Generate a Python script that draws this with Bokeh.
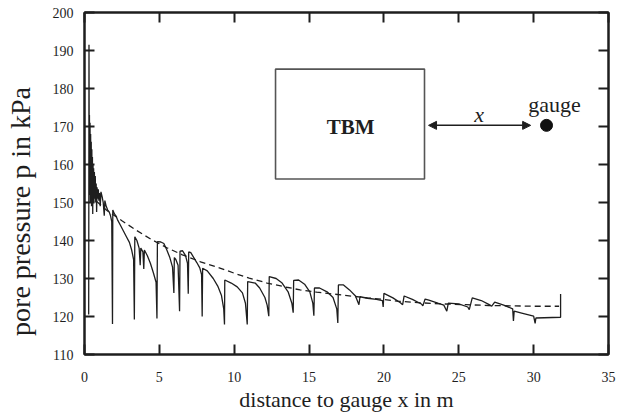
from bokeh.plotting import figure
from bokeh.models import LinearAxis, Arrow, NormalHead
from bokeh.core.properties import value
from bokeh.embed import file_html
from bokeh.resources import INLINE

# ---------------- data ----------------
meas_x = [0.28, 0.30, 0.32, 0.33, 0.35, 0.37, 0.39, 0.41, 0.43, 0.45, 0.47, 0.49, 0.51, 0.53,
          0.55, 0.57, 0.59, 0.61, 0.63, 0.66, 0.69, 0.72, 0.75, 0.78, 0.81, 0.84, 0.88, 0.92,
          0.96, 1.00, 1.05, 1.10, 1.18, 1.25, 1.32, 1.36, 1.45, 1.55, 1.65, 1.74, 1.82, 1.87,
          1.89, 2.00, 2.10, 2.20, 2.40, 2.60, 2.80, 3.00, 3.15, 3.28, 3.33, 3.36, 3.50, 3.65,
          3.72, 3.76, 3.90, 3.96, 4.00, 4.20, 4.40, 4.60, 4.78, 4.84, 4.87, 5.10, 5.30, 5.50,
          5.70, 5.88, 5.97, 6.00, 6.10, 6.25, 6.35, 6.38, 6.55, 6.75, 6.88, 6.93, 6.96, 7.10,
          7.30, 7.50, 7.70, 7.82, 7.86, 7.89, 8.20, 8.60, 8.90, 9.15, 9.30, 9.35, 9.37, 9.80,
          10.20, 10.55, 10.75, 10.87, 10.90, 11.40, 11.70, 12.05, 12.20, 12.31, 12.34, 12.80,
          13.20, 13.60, 13.85, 13.94, 13.97, 14.30, 14.70, 15.05, 15.25, 15.32, 15.36, 15.70,
          16.20, 16.60, 16.85, 16.92, 16.96, 17.30, 17.70, 18.10, 18.33, 18.40, 18.90, 19.50,
          19.90, 19.95, 20.00, 20.60, 21.10, 21.25, 21.35, 21.90, 22.50, 22.60, 22.75, 23.00,
          23.60, 24.00, 24.20, 24.30, 25.00, 25.60, 25.70, 25.90, 26.50, 27.00, 27.20, 27.40,
          28.00, 28.60, 28.65, 28.70, 29.20, 30.00, 30.10, 30.15, 31.80, 31.80]
meas_p = [120.5, 191.5, 152.0, 173.0, 155.0, 171.0, 150.0, 168.0, 153.0, 166.0, 149.0, 164.0, 152.0, 162.0,
          147.0, 160.0, 151.0, 159.0, 150.0, 158.0, 151.0, 157.0, 150.0, 155.0, 147.5, 154.0, 151.0, 153.5,
          150.5, 152.5, 149.0, 152.8, 151.5, 150.0, 146.5, 150.5, 149.0, 148.0, 147.5, 146.5, 145.0, 118.0,
          148.0, 147.0, 146.5, 145.5, 144.0, 142.5, 141.0, 139.5, 137.5, 135.0, 119.2, 141.0, 140.0, 138.0,
          133.5, 138.0, 137.0, 132.5, 137.5, 136.0, 134.0, 131.5, 129.0, 119.5, 139.7, 139.6, 139.2, 137.5,
          135.5, 133.0, 126.2, 135.5, 135.0, 133.5, 121.4, 137.2, 137.3, 136.0, 134.0, 126.0, 137.0, 136.8,
          135.5, 134.2, 132.8, 131.0, 120.0, 132.7, 132.0, 130.0, 128.0, 125.5, 122.0, 117.9, 129.6, 128.8,
          127.8, 126.2, 123.5, 117.9, 129.2, 128.8, 127.5, 125.0, 123.0, 120.1, 130.5, 130.0,
          128.8, 126.5, 123.5, 121.0, 129.5, 129.6, 128.5, 126.5, 123.5, 120.2, 127.5, 127.5,
          126.5, 125.0, 122.0, 118.3, 128.3, 128.3, 127.0, 125.4, 123.1, 125.2, 124.8, 124.5,
          124.2, 122.5, 126.1, 124.9, 123.6, 123.1, 125.4, 124.5, 123.3, 122.8, 124.6, 124.3,
          123.5, 123.0, 121.4, 123.5, 123.3, 122.5, 121.8, 124.9, 124.2, 123.2, 122.7, 123.8,
          123.0, 122.0, 118.8, 121.4, 120.9, 120.1, 118.2, 119.6, 119.8, 125.9]

fit_x = [0.8, 1.5, 2.5, 3.5, 4.5, 5.5, 6.5, 7.75, 9.0, 10.0, 11.0, 12.2, 13.5, 14.4, 15.5,
         16.65, 18.0, 18.9, 20.0, 21.0, 22.5, 24.0, 25.5, 27.0, 28.5, 30.0, 31.7]
fit_p = [150.3, 147.9, 145.2, 142.6, 140.2, 138.1, 136.3, 134.4, 132.8, 131.4, 130.1, 128.8,
         127.7, 127.0, 126.4, 125.9, 125.3, 124.9, 124.5, 124.0, 123.6, 123.3, 123.1, 122.9,
         122.8, 122.7, 122.7]

x_ticks = [0, 5, 10, 15, 20, 25, 30, 35]
y_ticks = [110, 120, 130, 140, 150, 160, 170, 180, 190, 200]

# sketch inset (TBM box, distance arrow, gauge)
tbm_left, tbm_right, tbm_bottom, tbm_top = [12.76], [22.71], [156.2], [185.1]
arrow_from, arrow_to, arrow_level = 22.98, 29.8, 170.3
gauge_x, gauge_y = [30.86], [170.3]
inset_text = ["TBM", "gauge", "x"]
inset_text_x = [17.77, 31.4, 26.36]
inset_text_y = [170.0, 175.8, 173.1]

SERIF = "Liberation Serif"
INK = "#1e1e1e"

# ---------------- figure ----------------
p = figure(width=620, height=414, x_range=(0, 35), y_range=(110, 200),
           output_backend="svg", toolbar_location=None,
           min_border_left=84, min_border_right=12, min_border_top=12, min_border_bottom=57)
p.grid.visible = False
p.outline_line_color = INK
p.outline_line_width = 2
p.background_fill_color = "white"
p.border_fill_color = "white"

for ax in (p.xaxis[0], p.yaxis[0]):
    ax.major_tick_in = 10
    ax.major_tick_out = 0
    ax.minor_tick_line_color = None
    ax.axis_line_width = 2
    ax.axis_line_color = INK
    ax.major_tick_line_color = INK
    ax.major_tick_line_width = 2
    ax.major_label_text_font = SERIF
    ax.major_label_text_font_size = "14px"
    ax.major_label_text_color = INK
    ax.axis_label_text_font = SERIF
    ax.axis_label_text_font_style = "normal"
    ax.axis_label_text_color = INK
p.xaxis.ticker = x_ticks
p.yaxis.ticker = y_ticks
p.xaxis.major_label_standoff = 17
p.yaxis.major_label_standoff = 11
p.xaxis.axis_label = "distance to gauge x in m"
p.xaxis.axis_label_text_font_size = "22px"
p.xaxis.axis_label_standoff = 2
# trailing no-break spaces push the (frame-centred) title down to where the reference has it
p.yaxis.axis_label = "pore pressure p in kPa" + "\u00a0" * 8
p.yaxis.axis_label_text_font_size = "28px"
p.yaxis.axis_label_standoff = 14

for loc, ticks in (("above", x_ticks), ("right", y_ticks)):
    ax = LinearAxis(ticker=ticks, major_tick_in=10, major_tick_out=0,
                    minor_tick_line_color=None, axis_line_width=2, axis_line_color=INK,
                    major_tick_line_color=INK, major_tick_line_width=2,
                    major_label_text_font_size="0px", major_label_standoff=0)
    p.add_layout(ax, loc)

# measured curve and fit
p.line(fit_x, fit_p, line_color=INK, line_width=1.3, line_dash="6 4")
p.line(meas_x, meas_p, line_color=INK, line_width=1.3)

# inset sketch
p.quad(left=tbm_left, right=tbm_right, bottom=tbm_bottom, top=tbm_top,
       fill_color=None, line_color="#555555", line_width=1.6)
p.add_layout(Arrow(x_start=arrow_from, y_start=arrow_level, x_end=arrow_to, y_end=arrow_level,
                   line_color=INK, line_width=1.5,
                   start=NormalHead(size=8, fill_color=INK, line_color=INK),
                   end=NormalHead(size=8, fill_color=INK, line_color=INK)))
p.scatter(gauge_x, gauge_y, size=12, color="#111111")

p.text(x=inset_text_x[:1], y=inset_text_y[:1], text=inset_text[:1], text_font=value(SERIF),
       text_font_size="21px", text_font_style="bold", text_align="center",
       text_baseline="middle", text_color=INK)
p.text(x=inset_text_x[1:2], y=inset_text_y[1:2], text=inset_text[1:2], text_font=value(SERIF),
       text_font_size="22px", text_align="center", text_baseline="middle", text_color=INK)
p.text(x=inset_text_x[2:], y=inset_text_y[2:], text=inset_text[2:], text_font=value(SERIF),
       text_font_size="22px", text_font_style="italic", text_align="center",
       text_baseline="middle", text_color=INK)

open("out.html", "w").write(file_html(p, INLINE))
